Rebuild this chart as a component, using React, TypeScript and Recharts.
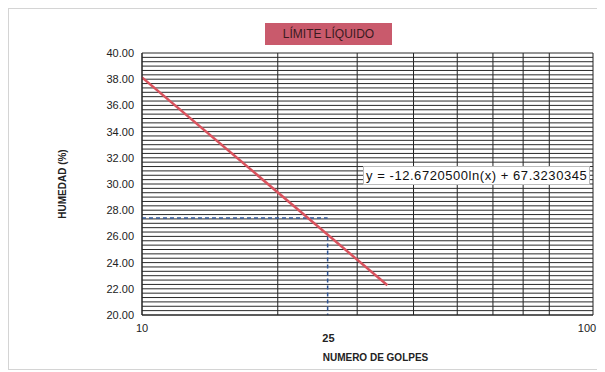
import {
    ComposedChart,
    Line,
    XAxis,
    YAxis,
    CartesianGrid,
    ReferenceLine,
} from "recharts";

// trend line end points
const trendX = [10, 35];
const trendY = [38.14, 22.27];

// blue guide: horizontal at the liquid limit, vertical at 25 blows
const guideHX = [10, 25.8];
const guideHY = [27.4, 27.4];
const guideVX = [25.8, 25.8];
const guideVY = [26.0, 20.0];

const xTicks = [10, 25, 100];
const yTicks = [20, 22, 24, 26, 28, 30, 32, 34, 36, 38, 40];
const xGrid = [10, 20, 30, 40, 50, 60, 70, 80, 90, 100];

const equation = "y = -12.6720500ln(x) + 67.3230345";

const trendData = trendX.map((x, i) => ({ x, y: trendY[i] }));
const guideH = guideHX.map((x, i) => ({ x, y: guideHY[i] }));
const guideV = guideVX.map((x, i) => ({ x, y: guideVY[i] }));

// dense horizontal grid, every 1/3 unit
const yGrid = Array.from({ length: 61 }, (_, i) => 20 + i / 3);

const font = '"Liberation Sans", Arial, sans-serif';

function XTick(props: any) {
    const { x, y, payload } = props;
    const is25 = payload.value === 25;
    return (
        <text
            x={x + (is25 ? 7 : 0)}
            y={y + (is25 ? 19 : 9)}
            textAnchor="middle"
            fontSize={11}
            fontWeight={is25 ? "bold" : "normal"}
            fill="#222"
            fontFamily={font}
        >
            {payload.value}
        </text>
    );
}

export default function App() {
    return (
        <div
            style={{
                position: "relative",
                width: 590,
                height: 360,
                border: "1px solid #d4d4d4",
                fontFamily: font,
                background: "#fff",
            }}
        >
            <div
                style={{
                    position: "absolute",
                    left: 256,
                    top: 14,
                    width: 127,
                    height: 22,
                    background: "#c95a6c",
                    color: "#3a1a1f",
                    fontSize: 12,
                    lineHeight: "22px",
                    textAlign: "center",
                }}
            >
                LÍMITE LÍQUIDO
            </div>
            <ComposedChart
                width={590}
                height={360}
                margin={{ top: 44, right: 6, left: 0, bottom: 0 }}
            >
                <CartesianGrid
                    stroke="#222"
                    strokeWidth={1}
                    horizontal={false}
                    verticalValues={xGrid}
                />
                {yGrid.map((v) => (
                    <ReferenceLine key={v} y={v} stroke="#2a2a2a" strokeWidth={1} />
                ))}
                <XAxis
                    type="number"
                    dataKey="x"
                    scale="log"
                    domain={[10, 100]}
                    ticks={xTicks}
                    allowDataOverflow
                    height={54}
                    tickLine={false}
                    axisLine={{ stroke: "#222" }}
                    tick={<XTick />}
                    label={{
                        value: "NUMERO DE GOLPES",
                        position: "insideBottom",
                        offset: 8,
                        dx: 8,
                        fontSize: 10,
                        fontWeight: "bold",
                        fill: "#222",
                    }}
                />
                <YAxis
                    type="number"
                    dataKey="y"
                    domain={[20, 40]}
                    ticks={yTicks}
                    width={133}
                    tickLine={false}
                    axisLine={{ stroke: "#222" }}
                    tick={{ fontSize: 11, fill: "#222", fontFamily: font }}
                    tickFormatter={(v) => v.toFixed(2)}
                    label={{
                        value: "HUMEDAD (%)",
                        angle: -90,
                        position: "center",
                        dx: -13,
                        fontSize: 10,
                        fontWeight: "bold",
                        fill: "#222",
                    }}
                />
                <Line
                    data={guideH}
                    dataKey="y"
                    stroke="#2f5597"
                    strokeWidth={1.5}
                    strokeDasharray="4 3"
                    dot={false}
                    isAnimationActive={false}
                />
                <Line
                    data={guideV}
                    dataKey="y"
                    stroke="#2f5597"
                    strokeWidth={1.5}
                    strokeDasharray="4 3"
                    dot={false}
                    isAnimationActive={false}
                />
                <Line
                    data={trendData}
                    dataKey="y"
                    stroke="#d9535e"
                    strokeWidth={2.5}
                    dot={false}
                    isAnimationActive={false}
                />
            </ComposedChart>
            <div
                style={{
                    position: "absolute",
                    left: 354,
                    top: 157,
                    padding: "1px 2px",
                    background: "#fff",
                    border: "1px solid #bbb",
                    fontSize: 13,
                    letterSpacing: 0.55,
                    color: "#111",
                    whiteSpace: "nowrap",
                }}
            >
                {equation}
            </div>
        </div>
    );
}
